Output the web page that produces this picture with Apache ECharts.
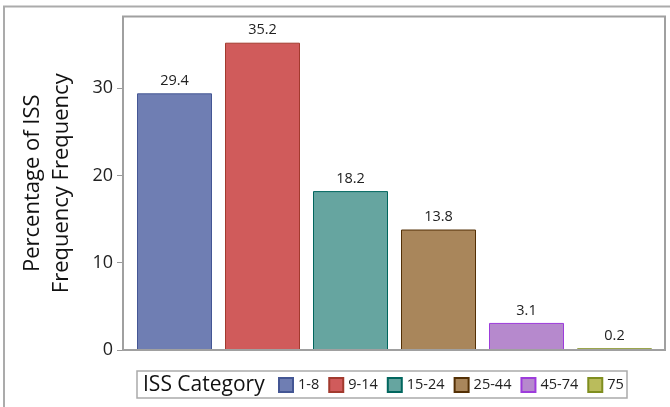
<!DOCTYPE html>
<html>
<head>
<meta charset="utf-8">
<script src="https://cdn.jsdelivr.net/npm/echarts@6/dist/echarts.min.js"></script>
<style>
html,body{margin:0;padding:0;background:#fff;}
#chart{width:670px;height:407px;}
</style>
</head>
<body>
<div id="chart"></div>
<script>
var categories = ['1-8', '9-14', '15-24', '25-44', '45-74', '75'];
var values = [29.4, 35.2, 18.2, 13.8, 3.1, 0.2];
var yTicks = [0, 10, 20, 30];
var fillColors = ['#6F7EB3', '#D05B5B', '#66A5A0', '#A9865B', '#B689CD', '#BABC5C'];
var lineColors = ['#445694', '#A23A2E', '#01665E', '#543005', '#9D3CDB', '#7F8E1F'];

var FONT = '"Open Sans", "DejaVu Sans", sans-serif';
var chart = echarts.init(document.getElementById('chart'), null, {renderer: 'canvas'});

var series = categories.map(function (c, i) {
  return {
    name: c,
    type: 'bar',
    barWidth: 75,
    barGap: '-100%',
    data: categories.map(function (_, j) { return j === i ? values[i] : '-'; }),
    itemStyle: {color: fillColors[i], borderColor: lineColors[i], borderWidth: 1},
    label: {
      show: true, position: 'top', distance: 5,
      color: '#222', fontSize: 14.5, fontFamily: FONT,
      formatter: function (p) { return p.value.toFixed(1); }
    },
    emphasis: {disabled: true}
  };
});

chart.setOption({
  animation: false,
  backgroundColor: '#fff',
  grid: {left: 130.5, right: 11.5, top: 16.5, bottom: 57, containLabel: false},
  xAxis: {
    type: 'category',
    data: categories,
    axisLine: {show: false},
    axisTick: {show: false},
    axisLabel: {show: false}
  },
  yAxis: {
    type: 'value',
    min: 0,
    max: 38.2,
    interval: 10,
    offset: 7.5,
    axisLine: {show: false},
    axisTick: {show: true, length: 6, customValues: yTicks, lineStyle: {color: '#999', width: 1}},
    axisLabel: {customValues: yTicks, color: '#222', fontSize: 18, fontFamily: FONT, margin: 10},
    splitLine: {show: false},
    name: 'Percentage of ISS\nFrequency Frequency',
    nameLocation: 'middle',
    nameRotate: 90,
    nameGap: 47,
    nameTextStyle: {color: '#111', fontSize: 22, fontFamily: FONT, lineHeight: 29}
  },
  legend: {
    data: categories,
    left: 278,
    top: 377,
    padding: 0,
    itemWidth: 14,
    itemHeight: 14,
    itemGap: 9,
    icon: 'rect',
    selectedMode: false,
    textStyle: {color: '#222', fontSize: 14.5, fontFamily: FONT, padding: [0, 0, 0, 0]}
  },
  graphic: [
    {type: 'rect', shape: {x: 4, y: 6.5, width: 700, height: 500}, style: {fill: null, stroke: '#ababab', lineWidth: 2}, silent: true, z: 0},
    {type: 'rect', shape: {x: 123, y: 16.5, width: 542, height: 333.5}, style: {fill: null, stroke: '#a0a0a0', lineWidth: 2}, silent: true, z: 10},
    {type: 'rect', shape: {x: 137, y: 371, width: 490, height: 27}, style: {fill: null, stroke: '#ababab', lineWidth: 1.5}, silent: true, z: 10},
    {type: 'text', x: 143, y: 385, style: {text: 'ISS Category', fill: '#111', fontSize: 21, fontFamily: FONT, verticalAlign: 'middle', align: 'left'}, silent: true, z: 10}
  ],
  series: series
});
</script>
</body>
</html>
